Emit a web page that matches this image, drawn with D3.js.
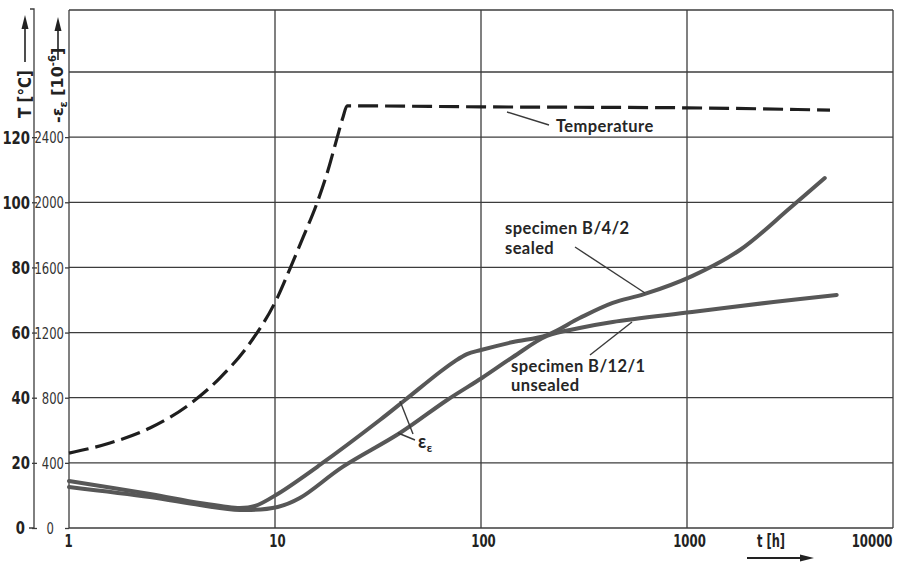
<!DOCTYPE html>
<html><head><meta charset="utf-8">
<script src="https://cdn.jsdelivr.net/npm/d3@7"></script>
<style>
body{margin:0;background:#fff;}
svg{display:block;}
</style></head>
<body><svg id="c" width="899" height="563"></svg>
<script>
// ---- data ----
const tempTime = [1, 1.58, 2.47, 3.87, 5.41, 7.56, 10.3, 11.8, 13.7, 16.0, 18.1, 20.0, 21.4, 22.4, 100, 1000, 4945];
const tempC    = [23.0, 26.1, 30.7, 38.1, 46.1, 56.8, 70.9, 79.5, 89.3, 99.8, 109.9, 119.7, 126.2, 129.6, 129.3, 129.0, 128.3];

const sealedTime = [1, 2.47, 4.32, 6.75, 8.0, 10.3, 16.5, 32.3, 42.8, 63.2, 74.8, 85.5, 100, 143, 209, 301, 436, 624, 1058, 1806, 3163, 4665];
const sealedEps  = [289, 209, 154, 123, 135, 209, 387, 663, 786, 958, 1025, 1068, 1093, 1142, 1185, 1289, 1382, 1437, 1547, 1707, 1965, 2149];

const unsealedTime = [1, 2.47, 4.32, 6.75, 10.3, 13.2, 21.3, 40.4, 68.5, 101, 143, 209, 301, 436, 1058, 2630, 5330];
const unsealedEps  = [252, 190, 141, 111, 129, 184, 375, 583, 786, 921, 1050, 1179, 1228, 1265, 1326, 1388, 1431];

const xTicks = [1, 10, 100, 1000, 10000];
const xTickLabels = ["1", "10", "100", "1000", "10000"];
const epsGrid = [0, 400, 800, 1200, 1600, 2000, 2400, 2800];
const epsTickLabels = [0, 400, 800, 1200, 1600, 2000, 2400];
const tTickLabels = [0, 20, 40, 60, 80, 100, 120];

// ---- scales ----
const L = 69, R = 893, T = 10, B = 528;
const x = d3.scaleLog().domain([1, 10000]).range([L, R]);
const epsTop = (B - T) / ((B - 72) / 2800);
const y = d3.scaleLinear().domain([0, epsTop]).range([B, T]);
const yT = d3.scaleLinear().domain([0, epsTop / 20]).range([B, T]);

const svg = d3.select("#c");
const gridCol = "#3c3c3c";
const numFont = "'DejaVu Sans',sans-serif";
const lblFont = "Lato,'DejaVu Sans',sans-serif";
const squeeze = (sel, perChar) => sel.attr("textLength", function () { return this.textContent.length * perChar; })
  .attr("lengthAdjust", "spacingAndGlyphs");

// grid
const grid = svg.append("g").attr("stroke", gridCol).attr("stroke-width", 1.3);
grid.selectAll(".h").data(epsGrid).join("line")
  .attr("x1", L).attr("x2", R).attr("y1", d => y(d)).attr("y2", d => y(d));
grid.selectAll(".v").data(xTicks).join("line")
  .attr("y1", T).attr("y2", B).attr("x1", d => x(d)).attr("x2", d => x(d));
grid.append("line").attr("x1", L).attr("x2", R).attr("y1", T).attr("y2", T);

// bottom axis labels
const xa = svg.append("g").attr("transform", `translate(0,${B})`)
  .call(d3.axisBottom(x).tickValues(xTicks).tickSize(0).tickPadding(7)
    .tickFormat((d, i) => xTickLabels[i]));
xa.select(".domain").remove();
xa.selectAll("text").attr("font-family", numFont).attr("font-weight", "bold")
  .attr("font-size", 17).attr("fill", "#222")
  .attr("transform", (d, i) => `translate(${i === 4 ? -1 : (i === 0 ? -1 : 2)},0) scale(0.69,1)`)
  .attr("text-anchor", (d, i) => i === 4 ? "end" : "middle");

// eps axis labels
const ea = svg.append("g").attr("transform", `translate(${L},0)`)
  .call(d3.axisLeft(y).tickValues(epsTickLabels).tickFormat(d3.format("d")).tickSize(4).tickPadding(1));
ea.select(".domain").remove();
ea.selectAll("line").attr("stroke", gridCol).attr("stroke-width", 1.3);
ea.selectAll("text").attr("font-family", numFont).attr("font-size", 16)
  .attr("fill", "#333").attr("dy", "0.35em").call(squeeze, 7.4)
  .attr("dx", d => d === 0 ? -10 : 0);

// T axis
const ta = svg.append("g").attr("transform", `translate(34,0)`)
  .call(d3.axisLeft(yT).tickValues(tTickLabels).tickFormat(d3.format("d")).tickSize(2).tickPadding(2));
ta.select(".domain").remove();
ta.selectAll("line").attr("stroke", gridCol).attr("stroke-width", 1.3).attr("x2", 3).attr("x1", -2);
ta.selectAll("text").attr("font-family", numFont).attr("font-weight", "bold")
  .attr("font-size", 17).attr("fill", "#222").attr("dy", "0.35em").call(squeeze, 9.2)
  .attr("dx", d => d === 0 ? -5 : 0);
svg.append("path").attr("d", `M30,${T - 1}H34V${B}H29`).attr("fill", "none")
  .attr("stroke", gridCol).attr("stroke-width", 1.3);

// axis titles with arrows
function upArrow(cx, y1, y2) {
  svg.append("line").attr("x1", cx).attr("x2", cx).attr("y1", y1).attr("y2", y2 + 10)
    .attr("stroke", "#222").attr("stroke-width", 1.6);
  svg.append("path").attr("d", `M${cx},${y2} L${cx - 3.5},${y2 + 14} L${cx + 3.5},${y2 + 14} Z`).attr("fill", "#222");
}
upArrow(25, 62, 15);
upArrow(58, 60, 17);
svg.append("text").attr("transform", "translate(31,118) rotate(-90)")
  .attr("font-family", numFont).attr("font-weight", "bold")
  .attr("font-size", 17).attr("fill", "#222").text("T [°C]")
  .attr("textLength", 48).attr("lengthAdjust", "spacingAndGlyphs");
const et = svg.append("text").attr("transform", "translate(63,123) rotate(-90)")
  .attr("font-family", numFont).attr("font-weight", "bold")
  .attr("font-size", 16).attr("fill", "#222");
et.append("tspan").text("-ε");
et.append("tspan").attr("font-size", 11).attr("dy", 4).text("ε");
et.append("tspan").attr("dy", -4).text(" [10");
et.append("tspan").attr("font-size", 10).attr("dy", -7).text("-6");
et.append("tspan").attr("dy", 7).text("]");

// x title
svg.append("text").attr("x", 757).attr("y", 547)
  .attr("font-family", numFont).attr("font-weight", "bold").attr("font-size", 17)
  .attr("fill", "#222").attr("textLength", 28).attr("lengthAdjust", "spacingAndGlyphs").text("t [h]");
svg.append("line").attr("x1", 747).attr("x2", 803).attr("y1", 558).attr("y2", 558)
  .attr("stroke", "#222").attr("stroke-width", 1.8);
svg.append("path").attr("d", "M814,558 L800,554.5 L800,561.5 Z").attr("fill", "#222");

// curves
const smooth = d3.line().curve(d3.curveCatmullRom.alpha(0.5));
const mono = d3.line().curve(d3.curveMonotoneX);
const tempPts = tempTime.map((t, i) => [x(t), yT(tempC[i])]);
const sealedPts = sealedTime.map((t, i) => [x(t), y(sealedEps[i])]);
const unsealedPts = unsealedTime.map((t, i) => [x(t), y(unsealedEps[i])]);

svg.append("path").attr("d", smooth(sealedPts)).attr("fill", "none")
  .attr("stroke", "#575757").attr("stroke-width", 4).attr("stroke-linecap", "round");
svg.append("path").attr("d", smooth(unsealedPts)).attr("fill", "none")
  .attr("stroke", "#575757").attr("stroke-width", 4).attr("stroke-linecap", "round");
svg.append("path").attr("d", mono(tempPts)).attr("fill", "none")
  .attr("stroke", "#1e1e1e").attr("stroke-width", 3.2).attr("stroke-dasharray", "20,7");

// annotations
const ann = svg.append("g").attr("font-family", lblFont).attr("font-weight", "bold")
  .attr("font-size", 16.5).attr("fill", "#262626").attr("letter-spacing", 0.4);
const lead = svg.append("g").attr("stroke", "#3a3a3a").attr("stroke-width", 1.4);
lead.append("line").attr("x1", 507).attr("y1", 112).attr("x2", 549).attr("y2", 125);
ann.append("text").attr("x", 556).attr("y", 132).text("Temperature");

ann.append("text").attr("x", 505).attr("y", 234).text("specimen  B/4/2");
ann.append("text").attr("x", 505).attr("y", 254).text("sealed");
lead.append("line").attr("x1", 575).attr("y1", 247).attr("x2", 645).attr("y2", 293);

ann.append("text").attr("x", 511).attr("y", 372).text("specimen  B/12/1");
ann.append("text").attr("x", 511).attr("y", 391).text("unsealed");
lead.append("line").attr("x1", 590).attr("y1", 355).attr("x2", 632).attr("y2", 322);

lead.append("line").attr("x1", 400).attr("y1", 401).attr("x2", 413).attr("y2", 434);
lead.append("line").attr("x1", 398).attr("y1", 433).attr("x2", 415).attr("y2", 440);
const eps = ann.append("text").attr("x", 418).attr("y", 448).attr("font-size", 18);
eps.append("tspan").text("ε");
eps.append("tspan").attr("font-size", 12).attr("dy", 4).text("ε");
</script>
</body></html>
